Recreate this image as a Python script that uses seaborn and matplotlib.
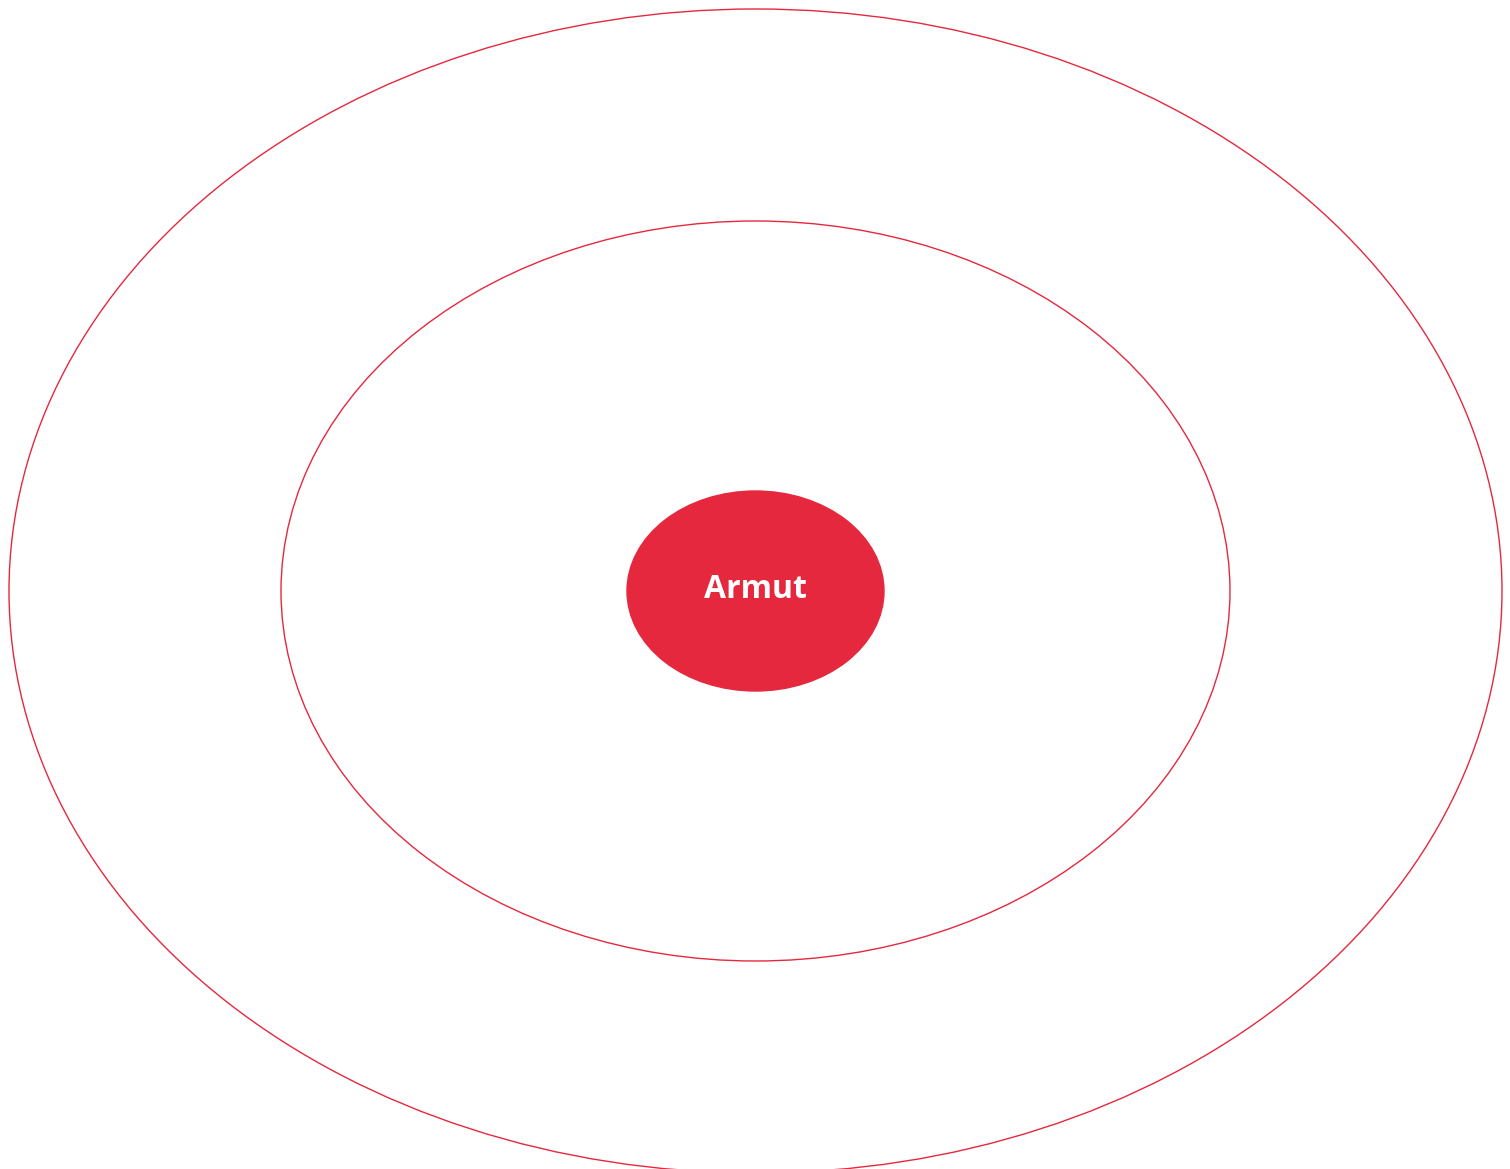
import matplotlib.pyplot as plt
import seaborn as sns
from matplotlib.patches import Ellipse

# rings from the core outwards
ring_names = ["Armut", "Level 2", "Level 3"]
ring_widths = [257, 949, 1493]
ring_heights = [200, 740, 1164]
ring_filled = [True, False, False]
core_label = "Armut"

RED = "#e5283e"

sns.set_theme(style="white")
plt.rcParams['font.family'] = ['Open Sans', 'DejaVu Sans']

fig = plt.figure(figsize=(15.1, 11.69), dpi=100)
ax = fig.add_axes([0, 0, 1, 1])
ax.set_xlim(0, 1510)
ax.set_ylim(1169, 0)
ax.set_aspect('equal')
ax.axis('off')

cx, cy = 755.5, 591
for name, w, h, filled in zip(ring_names, ring_widths, ring_heights, ring_filled):
    if filled:
        ax.add_patch(Ellipse((cx, cy), w, h, facecolor=RED, edgecolor=RED, lw=1.0))
    else:
        ax.add_patch(Ellipse((cx, cy), w, h, facecolor='none', edgecolor=RED, lw=1.0))

# label of the core ring
ax.text(cx, cy - 1, core_label, color='white', fontsize=23, fontweight='bold',
        ha='center', va='center')

fig.savefig("out.png", dpi=100)
